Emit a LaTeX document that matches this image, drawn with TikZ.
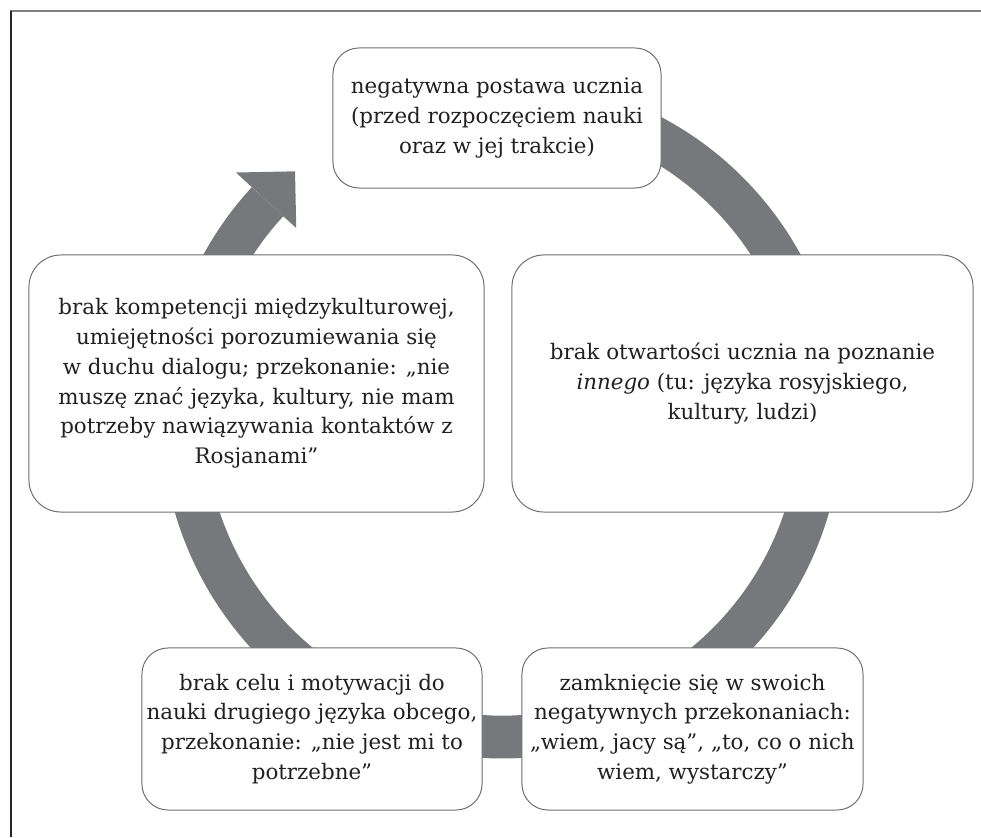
\documentclass[tikz,border=0pt]{standalone}
\usepackage{fontspec}
\setmainfont{DejaVu Serif}
\usepackage{tikz}
\definecolor{ringgray}{HTML}{77787B}
\definecolor{boxline}{HTML}{6D6E71}
\definecolor{txt}{HTML}{231F20}

\begin{document}
\begin{tikzpicture}[x=0.025cm,y=0.025cm,
		box/.style={draw=boxline,line width=0.7pt,fill=white,rounded corners=0.65cm,
			align=center,text=txt,inner sep=0pt,font=\fontsize{15.2pt}{21.2pt}\selectfont},
		widebox/.style={box,rounded corners=0.8cm},
		ring/.style={draw=ringgray,line width=1.07cm}]
		\useasboundingbox (0,0) rectangle (981,837);
		\draw[gray,line width=1.4pt] (10,826) -- (981,826);
		\draw[black!85,line width=1.1pt] (11,826) -- (11,0);
		\coordinate (mid) at (502,419);
		\draw[ring] (mid) ++(75:319) arc (75:-222.7:319);
		\fill[ringgray,shift={(mid)}] (137.3:362) -- (130:322) -- (137.3:280) -- cycle;
		\node[box,minimum width=8.2cm,minimum height=3.5cm] (postawa) at (497,719)
			{negatywna postawa ucznia\\(przed rozpoczęciem nauki\\oraz w jej trakcie)};
		\node[widebox,minimum width=11.525cm,minimum height=6.425cm] (otwartosc) at (742.5,453.5)
			{brak otwartości ucznia na poznanie\\\textit{innego} (tu: języka rosyjskiego,\\kultury, ludzi)};
		\node[box,minimum width=8.525cm,minimum height=4.05cm] (zamkniecie) at (692.5,108)
			{zamknięcie się w swoich\\negatywnych przekonaniach:\\„wiem, jacy są”, „to, co o nich\\wiem, wystarczy”};
		\node[box,minimum width=8.5cm,minimum height=4.05cm] (cel) at (312,108)
			{brak celu i motywacji do\\nauki drugiego języka obcego,\\przekonanie: „nie jest mi to\\potrzebne”};
		\node[widebox,minimum width=11.375cm,minimum height=6.425cm] (kompetencje) at (256.5,453.5)
			{brak kompetencji międzykulturowej,\\umiejętności porozumiewania się\\w duchu dialogu; przekonanie: „nie\\muszę znać języka, kultury, nie mam\\potrzeby nawiązywania kontaktów z\\Rosjanami”};
\end{tikzpicture}
\end{document}
